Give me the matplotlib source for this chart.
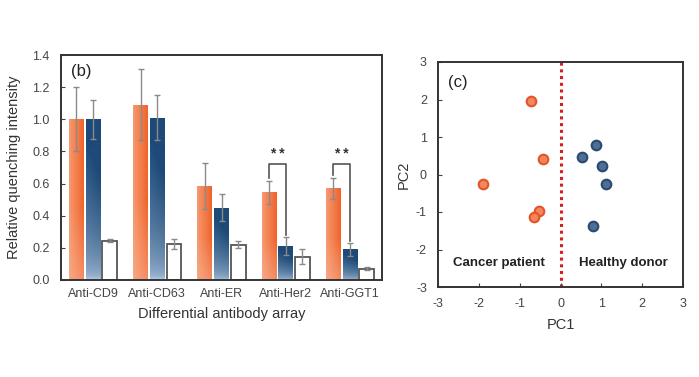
import numpy as np
import matplotlib
matplotlib.use("Agg")
import matplotlib.pyplot as plt
from matplotlib.patches import Rectangle
from matplotlib.colors import to_rgb

plt.rcParams['font.family'] = ['Liberation Sans', 'DejaVu Sans']
plt.rcParams['axes.unicode_minus'] = False

# ---- data (panel b) ----
categories = ["Anti-CD9", "Anti-CD63", "Anti-ER", "Anti-Her2", "Anti-GGT1"]
cancer_vals = [1.00, 1.09, 0.585, 0.545, 0.57]
cancer_err = [0.20, 0.22, 0.145, 0.07, 0.065]
healthy_vals = [1.00, 1.01, 0.45, 0.21, 0.19]
healthy_err = [0.12, 0.14, 0.085, 0.055, 0.04]
control_vals = [0.245, 0.225, 0.22, 0.145, 0.07]
control_err = [0.008, 0.03, 0.02, 0.045, 0.01]
yticks_b = [0.0, 0.2, 0.4, 0.6, 0.8, 1.0, 1.2, 1.4]

# ---- data (panel c) ----
cancer_pc1 = [-0.72, -0.43, -1.90, -0.53, -0.66]
cancer_pc2 = [1.95, 0.42, -0.25, -0.96, -1.14]
healthy_pc1 = [0.86, 0.53, 1.02, 1.12, 0.79]
healthy_pc2 = [0.80, 0.46, 0.24, -0.25, -1.37]
ticks_c = [-3, -2, -1, 0, 1, 2, 3]

W, H = 699, 377
fig = plt.figure(figsize=(W / 100, H / 100), dpi=100)

def ax_rect(x0, y0, x1, y1):
    return [x0 / W, 1 - y1 / H, (x1 - x0) / W, (y1 - y0) / H]

tick_col = '#444444'
spine_col = '#333333'

# ================= panel b =================
axb = fig.add_axes(ax_rect(61, 55, 382, 280))
axb.set_xlim(-0.5, 4.5)
axb.set_ylim(0, 1.4)
bw = 0.23
off = 0.26

def grad_bar(ax, xc, h, kind):
    x0, x1 = xc - bw / 2, xc + bw / 2
    nx, ny = 30, 60
    xs = np.linspace(0, 1, nx)
    ys = np.linspace(0, 1, ny)  # 0 bottom, 1 top
    X, Y = np.meshgrid(xs, ys)
    if kind == 'orange':
        base = np.array(to_rgb('#f0642a'))
        light = np.array(to_rgb('#fbd2bd'))
        t = np.clip(0.2 + 0.8 * np.minimum(1, (0.4 + 0.6 * X)) * np.clip(0.55 + Y, 0, 1), 0, 1)
    else:
        base = np.array(to_rgb('#1d4a78'))
        light = np.array(to_rgb('#cfe2f5'))
        t = np.clip(0.2 + 1.0 * Y ** 0.5 * (0.85 + 0.15 * X), 0, 1)
    img = light[None, None, :] * (1 - t[..., None]) + base[None, None, :] * t[..., None]
    im = ax.imshow(img, extent=[x0, x1, 0, h], origin='lower', aspect='auto',
                   interpolation='bilinear', zorder=2)
    rect = Rectangle((x0, 0), bw, h, transform=ax.transData, facecolor='none',
                     edgecolor='none')
    ax.add_patch(rect)
    im.set_clip_path(rect)

x = np.arange(len(categories))
for i in range(len(categories)):
    grad_bar(axb, x[i] - off, cancer_vals[i], 'orange')
    grad_bar(axb, x[i], healthy_vals[i], 'blue')
axb.bar(x + off, control_vals, width=bw, facecolor='white', edgecolor='#555555',
        linewidth=1.3, zorder=2)

ekw = dict(fmt='none', ecolor='#8a8a8a', elinewidth=1.0, capsize=2.5, capthick=1.0, zorder=3)
axb.errorbar(x - off, cancer_vals, yerr=cancer_err, **ekw)
axb.errorbar(x, healthy_vals, yerr=healthy_err, **ekw)
axb.errorbar(x + off, control_vals, yerr=control_err, **ekw)

# significance brackets
for i in [3, 4]:
    top = 0.72
    xl, xr = x[i] - off, x[i]
    yl = cancer_vals[i] + cancer_err[i] + 0.02
    yr = healthy_vals[i] + healthy_err[i] + 0.015
    axb.plot([xl, xl, xr, xr], [yl, top, top, yr], color='#555555', lw=1.2, zorder=4)
    axb.text((xl + xr) / 2, top + 0.02, '* *', ha='center', va='bottom',
             fontsize=10, fontweight='bold', color='#333333')

axb.set_xticks(x)
axb.set_xticklabels(categories)
axb.set_yticks(yticks_b)
axb.set_yticklabels([f"{v:.1f}" for v in yticks_b])
axb.tick_params(axis='x', length=0, labelsize=9, colors=tick_col, pad=6)
axb.tick_params(axis='y', direction='in', length=3, labelsize=9, colors=tick_col, pad=8)
axb.set_xlabel('Differential antibody array', fontsize=10.5, color='#333333', labelpad=5)
axb.set_ylabel('Relative quenching intensity', fontsize=10.5, color='#333333', labelpad=8)
for s in axb.spines.values():
    s.set_color(spine_col)
    s.set_linewidth(1.4)
axb.text(0.03, 0.96, '(b)', transform=axb.transAxes, ha='left', va='top',
         fontsize=12, color='#222222')

# ================= panel c =================
axc = fig.add_axes(ax_rect(438, 62, 683, 287))
axc.set_xlim(-3, 3)
axc.set_ylim(-3, 3)
axc.axvline(0, color='#d42020', linestyle=(0, (1, 1.2)), lw=2.2, zorder=1)
axc.scatter(cancer_pc1, cancer_pc2, s=48, facecolor='#f5855a', edgecolor='#e0552a',
            linewidth=1.5, zorder=3)
axc.scatter(healthy_pc1, healthy_pc2, s=48, facecolor='#4d6f96', edgecolor='#2c4a70',
            linewidth=1.5, zorder=3)
axc.set_xticks(ticks_c)
axc.set_yticks(ticks_c)
axc.tick_params(direction='in', length=3, labelsize=9, colors=tick_col, pad=8)
axc.set_xlabel('PC1', fontsize=10.5, color='#333333', labelpad=6)
axc.set_ylabel('PC2', fontsize=10.5, color='#333333', labelpad=4)
for s in axc.spines.values():
    s.set_color(spine_col)
    s.set_linewidth(1.4)
axc.text(-1.5, -2.35, 'Cancer patient', ha='center', va='center', fontsize=9.5,
         fontweight='bold', color='#222222')
axc.text(1.55, -2.35, 'Healthy donor', ha='center', va='center', fontsize=9.5,
         fontweight='bold', color='#222222')
axc.text(-2.75, 2.45, '(c)', ha='left', va='center', fontsize=12, color='#222222')

fig.savefig('out.png', dpi=100)
